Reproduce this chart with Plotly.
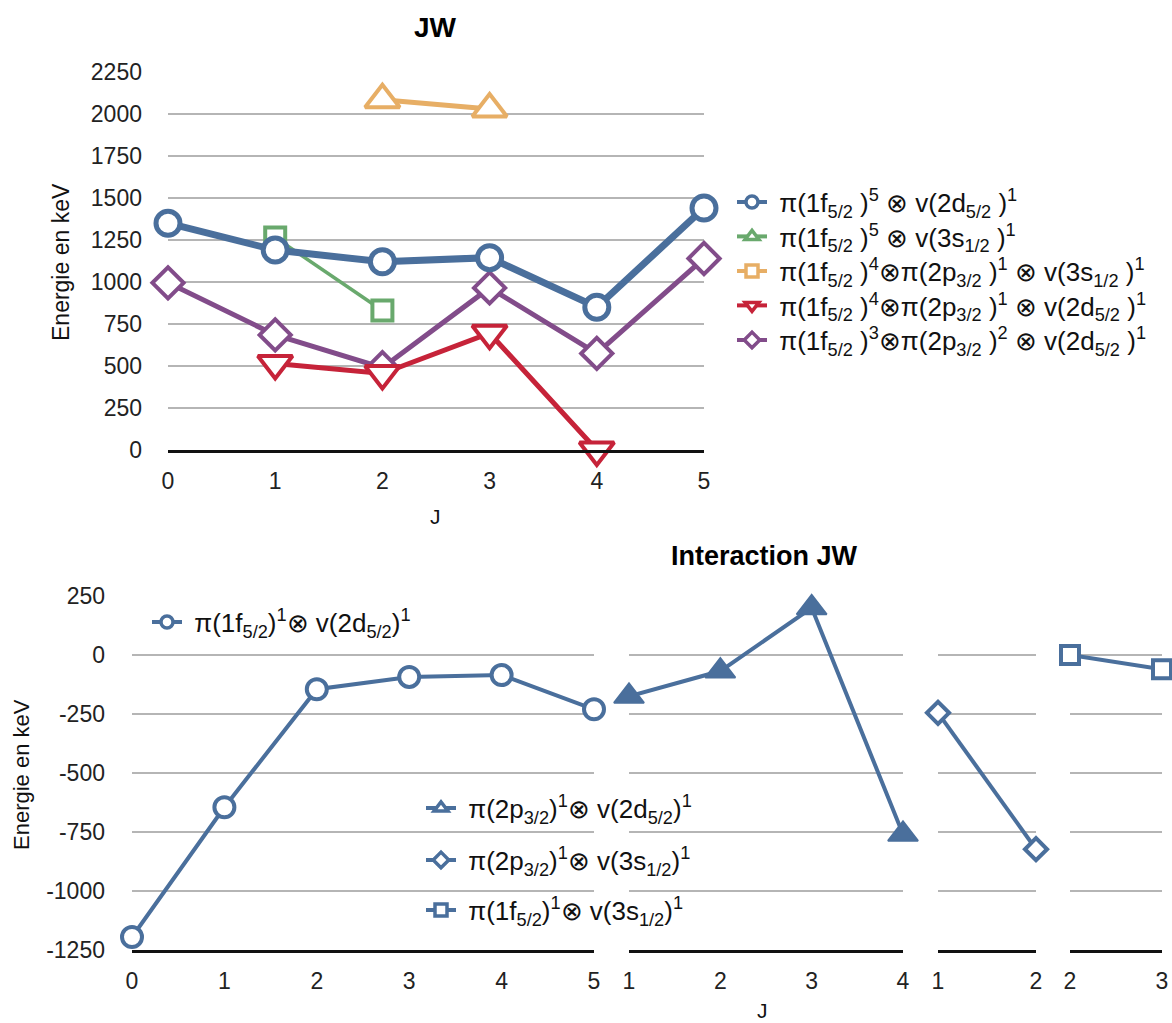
import plotly.graph_objects as go

W, H = 1172, 1023


def px(x):
    return x / W


def py(y):
    return 1 - y / H


# ---------------- data ----------------
# Top chart "JW"
top_names = [
    "π(1f<sub>5/2</sub> )<sup>5</sup> ⊗ v(2d<sub>5/2</sub> )<sup>1</sup>",
    "π(1f<sub>5/2</sub> )<sup>5</sup> ⊗ v(3s<sub>1/2</sub> )<sup>1</sup>",
    "π(1f<sub>5/2</sub> )<sup>4</sup>⊗π(2p<sub>3/2</sub> )<sup>1</sup> ⊗ v(3s<sub>1/2</sub> )<sup>1</sup>",
    "π(1f<sub>5/2</sub> )<sup>4</sup>⊗π(2p<sub>3/2</sub> )<sup>1</sup> ⊗ v(2d<sub>5/2</sub> )<sup>1</sup>",
    "π(1f<sub>5/2</sub> )<sup>3</sup>⊗π(2p<sub>3/2</sub> )<sup>2</sup> ⊗ v(2d<sub>5/2</sub> )<sup>1</sup>",
]
s1_J = [0, 1, 2, 3, 4, 5]
s1_E = [1350, 1190, 1120, 1145, 850, 1440]
s2_J = [1, 2]
s2_E = [1265, 830]
s3_J = [2, 3]
s3_E = [2085, 2030]
s4_J = [1, 2, 3, 4]
s4_E = [515, 455, 695, 0]
s5_J = [0, 1, 2, 3, 4, 5]
s5_E = [995, 685, 490, 965, 575, 1140]

top_yticks = [0, 250, 500, 750, 1000, 1250, 1500, 1750, 2000, 2250]
top_xticks = [0, 1, 2, 3, 4, 5]

# Bottom chart "Interaction JW"
bot_names = [
    "π(1f<sub>5/2</sub>)<sup>1</sup>⊗ v(2d<sub>5/2</sub>)<sup>1</sup>",
    "π(2p<sub>3/2</sub>)<sup>1</sup>⊗ v(2d<sub>5/2</sub>)<sup>1</sup>",
    "π(2p<sub>3/2</sub>)<sup>1</sup>⊗ v(3s<sub>1/2</sub>)<sup>1</sup>",
    "π(1f<sub>5/2</sub>)<sup>1</sup>⊗ v(3s<sub>1/2</sub>)<sup>1</sup>",
]
b1_J = [0, 1, 2, 3, 4, 5]
b1_E = [-1195, -645, -145, -93, -85, -230]
b2_J = [1, 2, 3, 4]
b2_E = [-175, -68, 200, -760]
b3_J = [1, 2]
b3_E = [-245, -823]
b4_J = [2, 3]
b4_E = [0, -60]

bot_yticks = [-1250, -1000, -750, -500, -250, 0, 250]
bot_ytext = ["-1250", "-1000", "-750", "-500", "-250", "0", "250"]

# ---------------- style ----------------
BLUE = "#4A6F9C"
GREEN = "#69A96D"
ORANGE = "#E7AE65"
RED = "#C62339"
PURPLE = "#824C8A"
GRID = "#B5B5B5"
FONT = "Liberation Sans, Arial, sans-serif"
NB = "\u00a0"

fig = go.Figure()


def mk(symbol, color, size, lw, fill="white"):
    return dict(symbol=symbol, size=size, color=fill, line=dict(color=color, width=lw))


# ---- top data traces ----
top_traces = [
    (s2_J, s2_E, GREEN, 3.5, mk("square", GREEN, 20, 4)),
    (s3_J, s3_E, ORANGE, 5, mk("triangle-up", ORANGE, 30, 4)),
    (s5_J, s5_E, PURPLE, 5, mk("diamond", PURPLE, 24, 4)),
    (s4_J, s4_E, RED, 5, mk("triangle-down", RED, 30, 4)),
    (s1_J, s1_E, BLUE, 7, mk("circle", BLUE, 24, 5)),
]
for xs, ys, c, lw, m in top_traces:
    fig.add_trace(go.Scatter(x=xs, y=ys, mode="lines+markers", line=dict(color=c, width=lw),
                             marker=m, showlegend=False, cliponaxis=False, xaxis="x", yaxis="y"))

# ---- bottom data traces ----
bot_traces = [
    (b1_J, b1_E, mk("circle", BLUE, 20, 4), "x2", "y2"),
    (b2_J, b2_E, mk("triangle-up", BLUE, 26, 2, fill=BLUE), "x3", "y3"),
    (b3_J, b3_E, mk("diamond", BLUE, 17, 4), "x4", "y4"),
    (b4_J, b4_E, mk("square", BLUE, 18, 4), "x5", "y5"),
]
for xs, ys, m, xa, ya in bot_traces:
    fig.add_trace(go.Scatter(x=xs, y=ys, mode="lines+markers", line=dict(color=BLUE, width=4),
                             marker=m, showlegend=False, cliponaxis=False, xaxis=xa, yaxis=ya))

# ---- legend entries (each in its own legend box for exact spacing) ----
legend_items = [
    (top_names[0], BLUE, "circle", "legend"),
    (top_names[1], GREEN, "triangle-up", "legend2"),
    (top_names[2], ORANGE, "square", "legend3"),
    (top_names[3], RED, "triangle-down", "legend4"),
    (top_names[4], PURPLE, "diamond", "legend5"),
    (bot_names[0], BLUE, "circle", "legend6"),
    (bot_names[1], BLUE, "triangle-up", "legend7"),
    (bot_names[2], BLUE, "diamond", "legend8"),
    (bot_names[3], BLUE, "square", "legend9"),
]
for name, c, sym, lg in legend_items:
    fig.add_trace(go.Scatter(x=[None], y=[None], mode="lines+markers", name=NB + name,
                             line=dict(color=c, width=4), marker=mk(sym, c, 12, 3.5),
                             legend=lg, xaxis="x", yaxis="y"))

# legend anchor positions (marker centre x, row centre y) in pixels
top_leg_x = 748
top_leg_y = [202, 236.5, 271, 305.5, 340]
bot_leg = [(163, 622), (437, 808), (437, 860), (437, 910)]


def legbox(mx, my, size=26):
    return dict(x=px(mx - 16), y=py(my), xanchor="left", yanchor="middle",
                bgcolor="rgba(0,0,0,0)", borderwidth=0,
                font=dict(family=FONT, size=size, color="#111111"), itemwidth=30)


legends = {}
for lid, yy in zip(["legend", "legend2", "legend3", "legend4", "legend5"], top_leg_y):
    legends[lid] = legbox(top_leg_x, yy)
for lid, (xx, yy) in zip(["legend6", "legend7", "legend8", "legend9"], bot_leg):
    legends[lid] = legbox(xx, yy)

tickfont = dict(family=FONT, size=23, color="#222222")

xcommon = dict(showgrid=False, zeroline=False, showline=True, linecolor="#111111", linewidth=2.5,
               ticks="", tickfont=tickfont, ticklabelstandoff=9, fixedrange=True, automargin=False)
ycommon = dict(showgrid=True, gridcolor=GRID, gridwidth=1.5, zeroline=False, showline=False,
               ticks="", tickfont=tickfont, fixedrange=True, automargin=False)

bot_ydom = [py(950), py(596)]


def ann(text, x, y, size, angle=0, color="#111111"):
    return dict(text=text, x=px(x), y=py(y), xref="paper", yref="paper", showarrow=False,
                xanchor="center", yanchor="middle", textangle=angle,
                font=dict(family=FONT, size=size, color=color))


fig.update_layout(
    width=W, height=H,
    margin=dict(l=0, r=0, t=0, b=0, pad=0),
    paper_bgcolor="white", plot_bgcolor="white",
    font=dict(family=FONT, color="#111111"),
    xaxis=dict(xcommon, domain=[px(168), px(704)], range=[0, 5], tickvals=top_xticks, anchor="y"),
    yaxis=dict(ycommon, domain=[py(450), py(72)], range=[0, 2250], tickvals=top_yticks,
               ticklabelstandoff=25, anchor="x"),
    xaxis2=dict(xcommon, domain=[px(132), px(594)], range=[0, 5], tickvals=[0, 1, 2, 3, 4, 5], anchor="y2"),
    yaxis2=dict(ycommon, domain=bot_ydom, range=[-1250, 250], tickvals=bot_yticks, ticktext=bot_ytext,
                ticklabelstandoff=26, anchor="x2"),
    xaxis3=dict(xcommon, domain=[px(629), px(903)], range=[1, 4], tickvals=[1, 2, 3, 4], anchor="y3"),
    yaxis3=dict(ycommon, domain=bot_ydom, range=[-1250, 250], tickvals=bot_yticks,
                showticklabels=False, anchor="x3"),
    xaxis4=dict(xcommon, domain=[px(938), px(1036)], range=[1, 2], tickvals=[1, 2], anchor="y4"),
    yaxis4=dict(ycommon, domain=bot_ydom, range=[-1250, 250], tickvals=bot_yticks,
                showticklabels=False, anchor="x4"),
    xaxis5=dict(xcommon, domain=[px(1070), px(1162)], range=[2, 3], tickvals=[2, 3], anchor="y5"),
    yaxis5=dict(ycommon, domain=bot_ydom, range=[-1250, 250], tickvals=bot_yticks,
                showticklabels=False, anchor="x5"),
    annotations=[
        ann("<b>JW</b>", 435, 28, 28, color="#000000"),
        ann("<b>Interaction JW</b>", 764, 556, 27, color="#000000"),
        ann("J", 435, 516, 21),
        ann("J", 762, 1010, 21),
        ann("Energie en keV", 61, 262, 23, angle=-90),
        ann("Energie en keV", 21, 775, 22, angle=-90),
    ],
)
fig.update_layout(**legends)

fig.write_html("out.html", config={"displayModeBar": False},
               post_script="document.body.style.margin='0';document.body.style.overflow='hidden';")
